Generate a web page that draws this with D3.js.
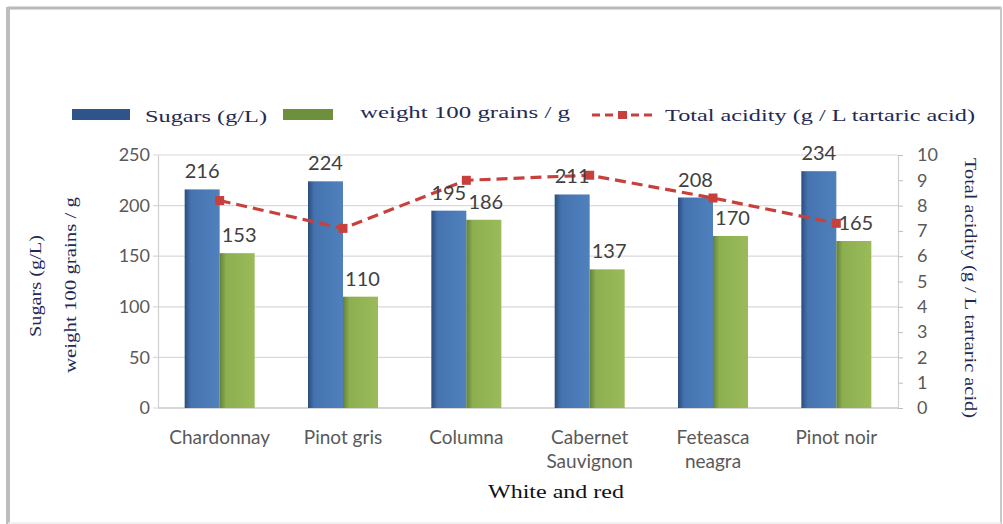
<!DOCTYPE html>
<html>
<head>
<meta charset="utf-8">
<script src="https://cdn.jsdelivr.net/npm/d3@7"></script>
<style>
  html, body { margin: 0; padding: 0; background: #fff; }
  svg { display: block; }
</style>
</head>
<body>
<svg id="chart" width="1003" height="524"></svg>
<script>
// Grape varieties and measured values
const categories = [["Chardonnay"], ["Pinot gris"], ["Columna"], ["Cabernet", "Sauvignon"], ["Feteasca", "neagra"], ["Pinot noir"]];
const sugars = [216, 224, 195, 211, 208, 234];
const grainWeight = [153, 110, 186, 137, 170, 165];
const acidity = [8.2, 7.1, 9.0, 9.2, 8.3, 7.3];
const leftTicks = [0, 50, 100, 150, 200, 250];
const rightTicks = [0, 1, 2, 3, 4, 5, 6, 7, 8, 9, 10];

const svg = d3.select("#chart");
const plot = { left: 158, right: 898, top: 155, bottom: 408 };

const tickFont = "Lato, 'Open Sans', 'Liberation Sans', sans-serif";
const serif = "'Liberation Serif', 'DejaVu Serif', serif";
const navy = "#1f2a55";

// outer frame
svg.append("line").attr("x1", 8).attr("x2", 1001).attr("y1", 8).attr("y2", 8)
  .attr("stroke", "#b8b8b8").attr("stroke-width", 3);
svg.append("line").attr("x1", 8).attr("x2", 8).attr("y1", 7).attr("y2", 524)
  .attr("stroke", "#bdbdbd").attr("stroke-width", 4);
svg.append("line").attr("x1", 1001).attr("x2", 1001).attr("y1", 7).attr("y2", 524)
  .attr("stroke", "#c8c8c8").attr("stroke-width", 2);
svg.append("line").attr("x1", 8).attr("x2", 1001).attr("y1", 523).attr("y2", 523)
  .attr("stroke", "#ececec").attr("stroke-width", 1.5);

// gradients for the bars
const defs = svg.append("defs");
function barGradient(id, dark, mid, light) {
  const g = defs.append("linearGradient").attr("id", id)
    .attr("x1", "0%").attr("x2", "100%").attr("y1", "0%").attr("y2", "0%");
  g.append("stop").attr("offset", "0%").attr("stop-color", dark);
  g.append("stop").attr("offset", "18%").attr("stop-color", mid);
  g.append("stop").attr("offset", "100%").attr("stop-color", light);
}
barGradient("gBlue", "#2c4d7c", "#4573b0", "#4f81bd");
barGradient("gGreen", "#64803a", "#8caf50", "#9bbb59");

// scales
const x0 = d3.scaleBand().domain(d3.range(categories.length))
  .range([plot.left, plot.right]).paddingInner(0).paddingOuter(0);
const barW = 35;
const yL = d3.scaleLinear().domain([0, 250]).range([plot.bottom, plot.top]);
const yR = d3.scaleLinear().domain([0, 10]).range([plot.bottom, plot.top]);
const center = i => x0(i) + x0.bandwidth() / 2;

// gridlines
svg.append("g").selectAll("line").data(leftTicks).join("line")
  .attr("x1", plot.left - 5).attr("x2", plot.right)
  .attr("y1", d => yL(d)).attr("y2", d => yL(d))
  .attr("stroke", "#d9d9d9").attr("stroke-width", 1.2);

// left axis
const axL = svg.append("g").attr("transform", `translate(${plot.left},0)`)
  .call(d3.axisLeft(yL).tickValues(leftTicks).tickSize(0).tickPadding(8));
axL.select(".domain").attr("stroke", "#d0d0d0").attr("stroke-width", 1.2);
axL.selectAll("text").attr("font-family", tickFont).attr("font-size", 18).attr("fill", "#595959");

// right axis
const axR = svg.append("g").attr("transform", `translate(${plot.right},0)`)
  .call(d3.axisRight(yR).tickValues(rightTicks).tickSize(5).tickPadding(14));
axR.select(".domain").attr("stroke", "#d0d0d0").attr("stroke-width", 1.2);
axR.selectAll(".tick line").attr("stroke", "#bfbfbf");
axR.selectAll("text").attr("font-family", tickFont).attr("font-size", 18).attr("fill", "#595959");

// bottom axis line
svg.append("line").attr("x1", plot.left).attr("x2", plot.right)
  .attr("y1", plot.bottom).attr("y2", plot.bottom)
  .attr("stroke", "#d0d0d0").attr("stroke-width", 1.5);

// category labels
const catG = svg.append("g");
categories.forEach((lines, i) => {
  const t = catG.append("text")
    .attr("x", center(i)).attr("y", 444)
    .attr("text-anchor", "middle")
    .attr("font-family", tickFont).attr("font-size", 19).attr("fill", "#595959");
  lines.forEach((s, k) => t.append("tspan")
    .attr("x", center(i)).attr("dy", k === 0 ? 0 : 24).text(s));
});

// bars
svg.append("g").selectAll("rect").data(sugars).join("rect")
  .attr("x", (d, i) => center(i) - barW).attr("width", barW)
  .attr("y", d => yL(d)).attr("height", d => yL(0) - yL(d))
  .attr("fill", "url(#gBlue)");
svg.append("g").selectAll("rect").data(grainWeight).join("rect")
  .attr("x", (d, i) => center(i)).attr("width", barW)
  .attr("y", d => yL(d)).attr("height", d => yL(0) - yL(d))
  .attr("fill", "url(#gGreen)");

// acidity line
const line = d3.line().x((d, i) => center(i)).y(d => yR(d));
svg.append("path").datum(acidity).attr("d", line)
  .attr("fill", "none").attr("stroke", "#c8403c").attr("stroke-width", 3.2)
  .attr("stroke-dasharray", "11,6");
svg.append("g").selectAll("rect").data(acidity).join("rect")
  .attr("x", (d, i) => center(i) - 4.5).attr("y", d => yR(d) - 4.5)
  .attr("width", 9).attr("height", 9).attr("fill", "#c8403c");

// value labels
const lblG = svg.append("g").attr("font-family", tickFont).attr("font-size", 20).attr("fill", "#404040")
  .attr("text-anchor", "middle");
sugars.forEach((v, i) => lblG.append("text")
  .attr("x", center(i) - barW / 2).attr("y", yL(v) - 11).text(v));
grainWeight.forEach((v, i) => lblG.append("text")
  .attr("x", center(i) + barW / 2 + 2).attr("y", yL(v) - 11).text(v));

// axis titles
function vTitle(txt, x, y, len, rot) {
  svg.append("text")
    .attr("transform", `translate(${x},${y}) rotate(${rot})`)
    .attr("text-anchor", "middle")
    .attr("font-family", serif).attr("font-size", 17).attr("fill", navy)
    .attr("textLength", len).attr("lengthAdjust", "spacingAndGlyphs")
    .text(txt);
}
vTitle("Sugars (g/L)", 41, 286, 102, -90);
vTitle("weight 100 grains / g", 76, 285, 176, -90);
vTitle("Total acidity (g / L tartaric acid)", 965, 288, 260, 90);

svg.append("text").attr("x", 556).attr("y", 498).attr("text-anchor", "middle")
  .attr("font-family", serif).attr("font-size", 18).attr("fill", "#111")
  .attr("textLength", 136).attr("lengthAdjust", "spacingAndGlyphs")
  .text("White and red");

// legend
const lg = svg.append("g").attr("font-family", serif).attr("font-size", 17).attr("fill", navy);
lg.append("rect").attr("x", 72).attr("y", 109).attr("width", 58).attr("height", 11).attr("fill", "#2f548a");
lg.append("text").attr("x", 145).attr("y", 122).attr("textLength", 122).attr("lengthAdjust", "spacingAndGlyphs").text("Sugars (g/L)");
lg.append("rect").attr("x", 283).attr("y", 109).attr("width", 50).attr("height", 11).attr("fill", "#6e8f3c");
lg.append("text").attr("x", 360).attr("y", 118).attr("textLength", 210).attr("lengthAdjust", "spacingAndGlyphs").text("weight 100 grains / g");
lg.append("line").attr("x1", 592).attr("x2", 652).attr("y1", 115).attr("y2", 115)
  .attr("stroke", "#c8403c").attr("stroke-width", 3).attr("stroke-dasharray", "8,5");
lg.append("rect").attr("x", 618).attr("y", 111).attr("width", 9).attr("height", 8).attr("fill", "#c8403c");
lg.append("text").attr("x", 665).attr("y", 121).attr("textLength", 310).attr("lengthAdjust", "spacingAndGlyphs").text("Total acidity (g / L tartaric acid)");
</script>
</body>
</html>
